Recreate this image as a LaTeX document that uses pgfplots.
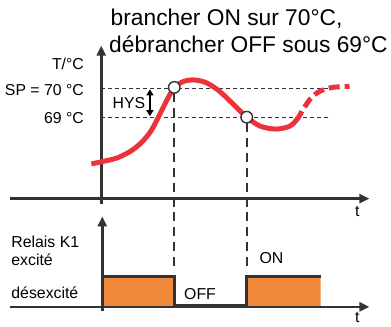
\documentclass[border=0pt]{standalone}
\usepackage{pgfplots}
\pgfplotsset{compat=1.18}
\usetikzlibrary{arrows.meta}
\usepackage{fontspec}
\setmainfont{Liberation Sans}
\definecolor{tred}{RGB}{234,51,59}
\definecolor{torange}{RGB}{240,138,58}
\definecolor{dk}{RGB}{51,51,51}
\definecolor{txt}{RGB}{60,60,60}
\begin{document}
\begin{tikzpicture}
\begin{axis}[
  width=391bp, height=326bp, scale only axis,
  xmin=0, xmax=391, ymin=0, ymax=326, y dir=reverse,
  hide axis, clip=false,
  every node/.append style={text=txt, inner sep=0pt},
]
% frame for the bounding box
\addplot[draw=none] coordinates {(0,0) (391,326)};

% ---- relay chart ----
\addplot[fill=torange, draw=none] coordinates {(103,279) (175.5,279) (175.5,309) (103,309) (103,279)};
\addplot[fill=torange, draw=none] coordinates {(248.5,279) (323,279) (323,309) (248.5,309) (248.5,279)};
\addplot[dk, line width=3bp, line join=miter] coordinates {(103,278.5) (175.5,278.5) (175.5,308) (248.5,308) (248.5,278.5) (323,278.5)};
\addplot[dk, line width=2.5bp, -{Triangle[length=10bp,width=9bp]}] coordinates {(10,309) (372,309)};
\addplot[dk, line width=2.5bp, -{Triangle[length=10bp,width=9bp]}] coordinates {(103,313) (103,218)};

% ---- temperature chart ----
\addplot[dk, line width=0.9bp, dash pattern=on 4bp off 3bp] coordinates {(102,89) (333,89)};
\addplot[dk, line width=0.9bp, dash pattern=on 4bp off 3bp] coordinates {(102,118) (333,118)};
\addplot[dk, line width=1.8bp, dash pattern=on 9bp off 6bp] coordinates {(175.5,94) (175.5,274)};
\addplot[dk, line width=1.8bp, dash pattern=on 9bp off 6bp] coordinates {(248.5,124) (248.5,274)};
\addplot[dk, line width=2.5bp, -{Triangle[length=10bp,width=9bp]}] coordinates {(10,200) (372,200)};
\addplot[dk, line width=2.5bp, -{Triangle[length=10bp,width=9bp]}] coordinates {(102,205) (102,46)};

\addplot[tred, line width=5bp, smooth] coordinates {
 (92,165) (102,163) (118,159) (132,152) (143,143) (152,132) (160,117) (168,101)
 (175.5,88) (185,82) (195,80.5) (207,83) (220,91) (234,104) (248.5,118) (262,127)
 (278,130) (292,127) (300,119) (304,112)};
\addplot[tred, line width=5bp, smooth, dash pattern=on 11bp off 5bp, dash phase=11bp] coordinates {
 (304,112) (313,99) (322,92) (335,88) (352,87)};

\addplot[black, line width=1.8bp, {Triangle[length=6bp,width=7bp]}-{Triangle[length=6bp,width=7bp]}] coordinates {(151,90) (151,117)};

\addplot[only marks, mark=*, mark size=5.8bp, mark options={fill=white, draw=dk, line width=1.4bp}] coordinates {(175.5,88) (248.5,118)};

% ---- texts ----
\node[anchor=base west, font=\fontsize{23}{27}\selectfont] at (axis cs:108,25.5) {brancher ON sur 70°C,};
\node[anchor=base west, font=\fontsize{23}{27}\selectfont] at (axis cs:106.5,53) {débrancher OFF sous 69°C};
\node[anchor=base east, font=\fontsize{16}{19}\selectfont] at (axis cs:88,70) {T/°C};
\node[anchor=base east, font=\fontsize{16}{19}\selectfont] at (axis cs:88,96) {SP = 70 °C};
\node[anchor=base east, font=\fontsize{16}{19}\selectfont] at (axis cs:88,124) {69 °C};
\node[anchor=base west, font=\fontsize{16}{19}\selectfont] at (axis cs:110,109) {HYS};
\node[anchor=base west, font=\fontsize{16}{19}\selectfont] at (axis cs:354,218) {t};
\node[anchor=base west, font=\fontsize{16}{19}\selectfont] at (axis cs:354,325) {t};
\node[anchor=base west, font=\fontsize{16}{19}\selectfont] at (axis cs:8,249) {Relais K1};
\node[anchor=base west, font=\fontsize{16}{19}\selectfont] at (axis cs:8,267) {excité};
\node[anchor=base west, font=\fontsize{16}{19}\selectfont] at (axis cs:8,301) {désexcité};
\node[anchor=base west, font=\fontsize{16}{19}\selectfont] at (axis cs:182,302) {OFF};
\node[anchor=base west, font=\fontsize{16}{19}\selectfont] at (axis cs:258,265) {ON};
\end{axis}
\end{tikzpicture}
\end{document}
